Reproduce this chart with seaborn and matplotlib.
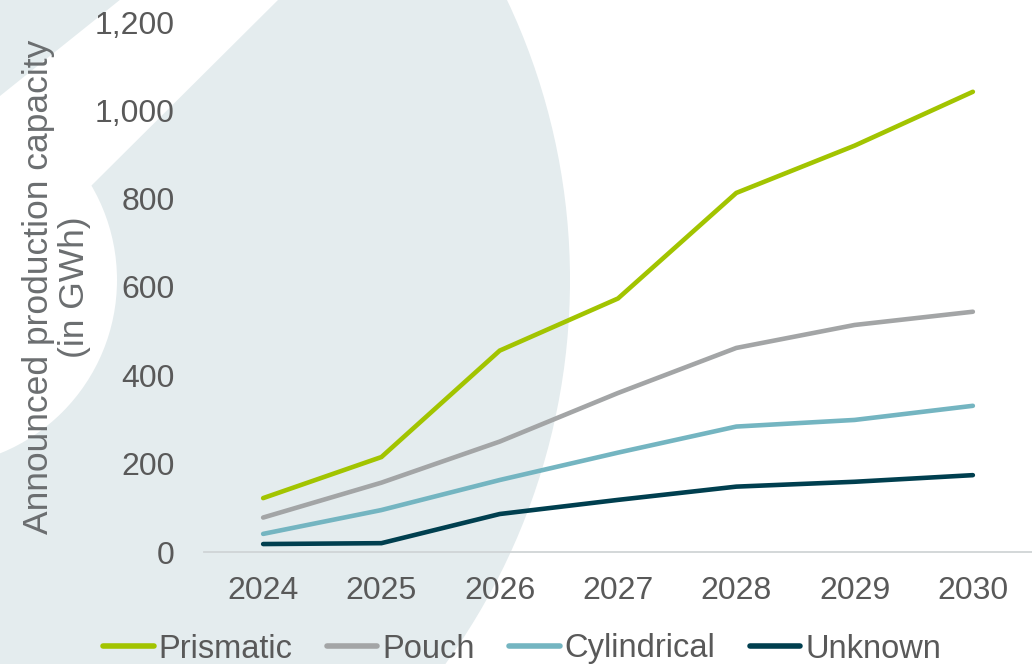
import matplotlib
matplotlib.use("Agg")
import matplotlib.pyplot as plt
import seaborn as sns
import pandas as pd
from matplotlib.patches import Circle, Polygon
from matplotlib.lines import Line2D

years = ["2024", "2025", "2026", "2027", "2028", "2029", "2030"]
prismatic = [122, 215, 456, 574, 813, 920, 1042]
pouch = [78, 157, 250, 360, 462, 514, 544]
cylindrical = [41, 95, 163, 225, 284, 299, 331]
unknown = [18, 20, 86, 118, 148, 159, 174]
series_names = ["Prismatic", "Pouch", "Cylindrical", "Unknown"]
colors = ["#A2C400", "#A3A5A6", "#74B5C1", "#003F4F"]
yticks = [0, 200, 400, 600, 800, 1000, 1200]
ytick_labels = ["0", "200", "400", "600", "800", "1,000", "1,200"]

df = pd.DataFrame({
    "year": years * 4,
    "value": prismatic + pouch + cylindrical + unknown,
    "type": sum([[n] * len(years) for n in series_names], []),
})

sns.set_theme(style="white")
plt.rcParams["font.family"] = ["Liberation Sans", "DejaVu Sans"]

W, H = 1032, 664
fig = plt.figure(figsize=(W / 100, H / 100), dpi=100)
fig.patch.set_facecolor("white")

# decorative background (pixel coordinates)
bg = fig.add_axes([0, 0, 1, 1], zorder=0)
bg.set_xlim(0, W)
bg.set_ylim(H, 0)
bg.axis("off")
light = "#E4ECEE"
bg.add_patch(Circle((-84, 280), 654, facecolor=light, edgecolor="none"))
bg.add_patch(Circle((-70, 280), 187, facecolor="white", edgecolor="none"))
bg.add_patch(Polygon([(126, -5), (283, -5), (90, 187), (0, 187), (-5, 100)],
                     closed=True, facecolor="white", edgecolor="none"))

ax = fig.add_axes([204 / W, 1 - 552 / H, (W - 204) / W, (552 - 22) / H], zorder=1)
ax.patch.set_alpha(0)

sns.lineplot(data=df, x="year", y="value", hue="type", hue_order=series_names,
             palette=colors, ax=ax, linewidth=3.3, legend=False, sort=False)
for ln in ax.get_lines():
    ln.set_solid_capstyle("round")
    ln.set_solid_joinstyle("miter")

ax.set_xlim(-0.5, 6.5)
ax.set_ylim(0, 1200)
ax.set_yticks(yticks)
ax.set_yticklabels(ytick_labels)
for s in ["top", "right", "left"]:
    ax.spines[s].set_visible(False)
ax.spines["bottom"].set_color("#D0D4D6")
ax.spines["bottom"].set_linewidth(1.3)
ax.tick_params(axis="both", length=0, labelsize=23, labelcolor="#595959")
ax.tick_params(axis="y", pad=21)
ax.tick_params(axis="x", pad=17)
ax.set_xlabel("")
ax.set_ylabel("Announced production capacity\n(in GWh)", fontsize=25.5,
              color="#6B6E70", linespacing=1.1)
ax.yaxis.set_label_coords(-0.137, 0.5)

# legend
handles = [Line2D([0], [0], color=c, linewidth=4.0, solid_capstyle="round")
           for c in colors]
leg = fig.legend(handles, series_names, loc="center", ncol=4, frameon=False,
                 bbox_to_anchor=(522 / W, 1 - 649 / H),
                 prop={"size": 23.5},
                 handlelength=1.55, handletextpad=0.15, columnspacing=1.05,
                 borderpad=0, borderaxespad=0)
for t in leg.get_texts():
    t.set_color("#595959")

fig.savefig("out.png", dpi=100)
